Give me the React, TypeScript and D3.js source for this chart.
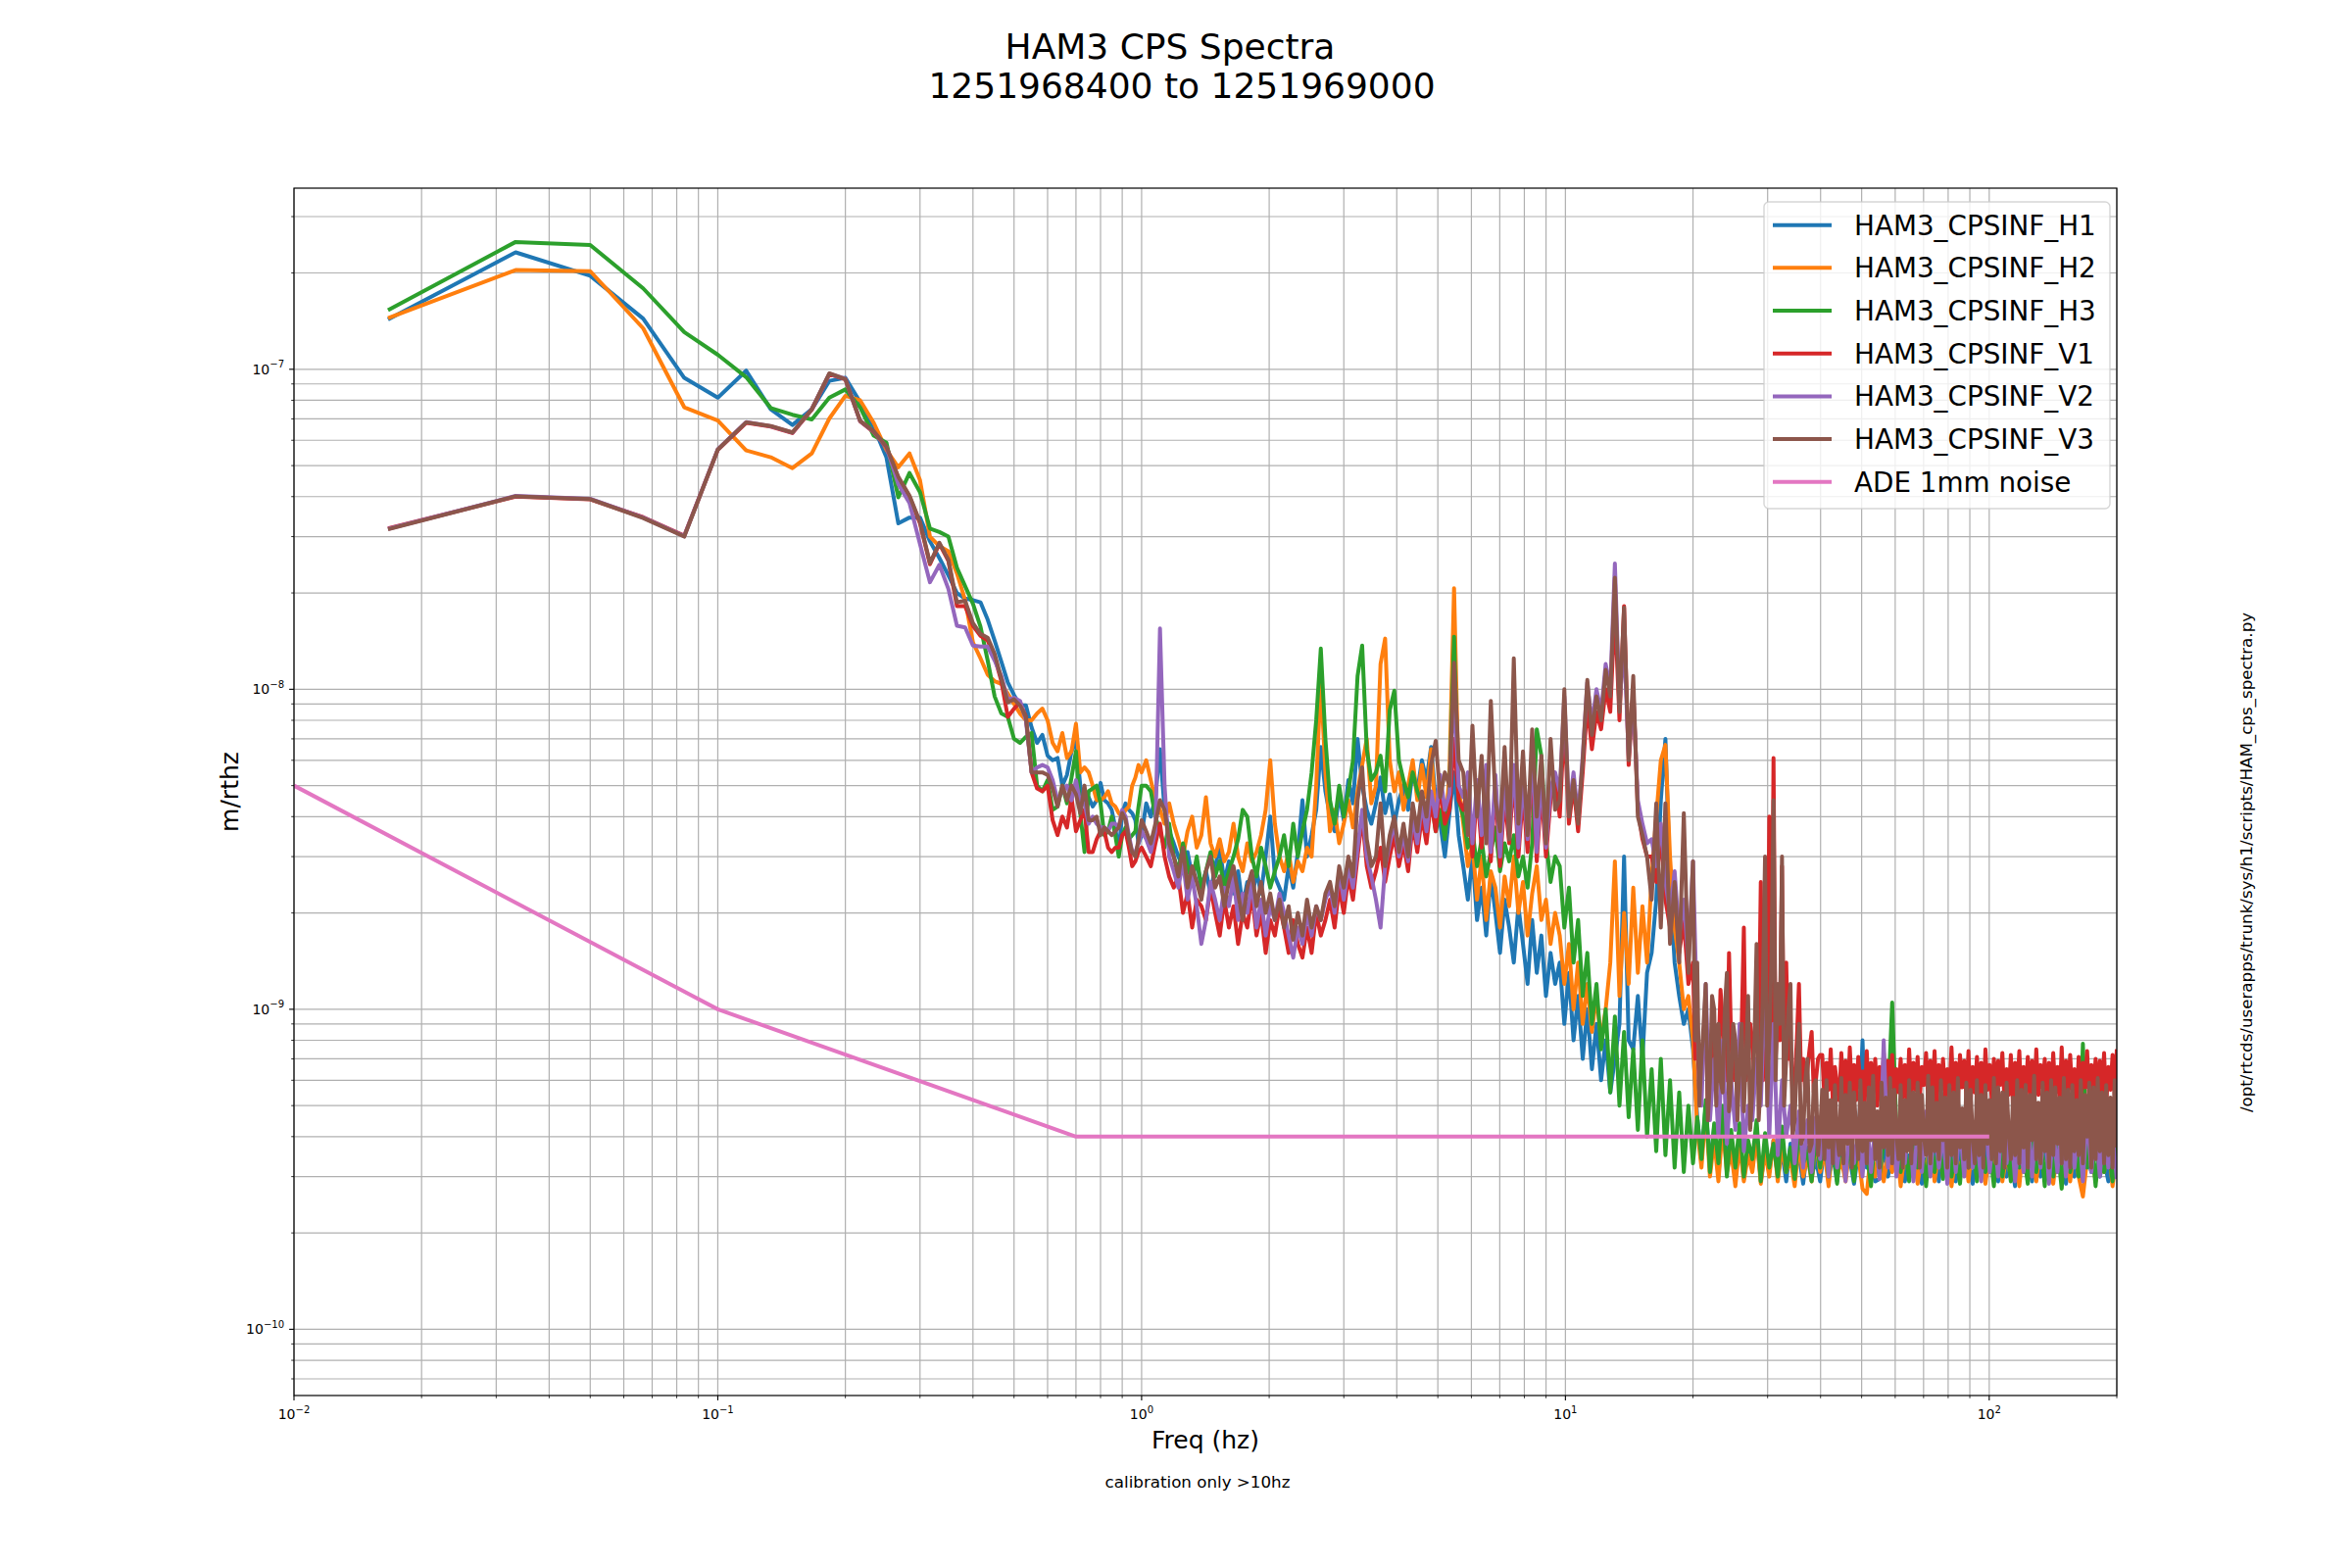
import * as d3 from 'd3'

// ── figure geometry (matplotlib default subplot box on a 2400x1600 canvas) ──
const W = 2400
const H = 1600
const M = { left: 300, right: 2160, top: 192, bottom: 1424 }
const FONT = 'DejaVu Sans'
const U = 1e-10 // all values below are in units of 1e-10 m/rthz

// ── frequency bins ───────────────────────────────────────────────────────────
// 1/60 Hz FFT bins up to 1 Hz, then log-sampled bins 1–20 Hz and 20–200 Hz
const F_LOW = d3.range(1, 61).map(k => k / 60)
const F_MID = d3.range(1, 121).map(i => Math.pow(20, i / 120))
const F_HIGH = d3.range(1, 101).map(j => 20 * Math.pow(10, j / 100))
const F_HIGH2 = d3.range(1, 201).map(j => 20 * Math.pow(10, j / 200)) // finer, for V1/V3

// ── HAM3_CPSINF_H1 ───────────────────────────────────────────────────────────
const H1_LOW = [
  1430, 2320, 1960, 1440, 940, 815, 990, 750, 670, 750, 920, 940,
  790, 660, 530, 330, 344, 344,
  290, 257, 227, 200, 192, 190, 187, 165, 142, 122, 105, 96, 89, 89, 76, 68, 72, 62, 60, 61, 50, 54,
  64, 69, 50, 44, 46, 43, 45, 51, 45, 44, 42, 37, 31, 41, 44, 42, 41, 39, 33, 35,
]
const H1_MID = [
  44, 40, 46, 65, 42, 36, 33, 30, 28, 31,
  26, 29, 24, 27, 23, 28, 32, 25, 29, 23,
  27, 21, 25, 22, 27, 23, 30, 40, 26, 24,
  22, 28, 24, 31, 45, 30, 35, 42, 66, 48,
  40, 36, 47, 39, 52, 44, 70, 50, 42, 38,
  44, 53, 41, 47, 38, 45, 50, 42, 56, 48,
  60, 52, 66, 45, 38, 30, 41, 55, 35, 28,
  22, 30, 19, 24, 17, 26, 20, 15, 22, 18,
  14, 21, 16, 12, 19, 13, 17, 11, 15, 12,
  14, 9, 13, 8, 11, 7, 10, 6.5, 9, 6,
  8, 5.5, 7, 9, 30, 8, 7.5, 11, 7, 13,
  15, 22, 45, 70, 25, 14, 11, 9, 10, 7.5,
]
const H1_HIGH = [
  4.6, 3.4, 5.0, 3.2, 4.3, 3.0, 4.8, 3.3, 4.0, 3.1,
  3.9, 2.95, 3.7, 3.2, 4.1, 2.9, 3.6, 3.1, 3.9, 3.0,
  3.6, 2.9, 3.8, 3.1, 3.5, 2.85, 3.7, 3.0, 3.4, 2.9,
  3.7, 3.0, 3.5, 2.9, 3.8, 3.1, 3.4, 2.85, 3.6, 8.0,
  3.2, 3.6, 2.9, 2.95, 3.7, 3.0, 3.5, 3.1, 3.8, 2.9,
  3.5, 3.0, 3.7, 2.85, 3.4, 3.1, 3.6, 2.9, 3.8, 3.0,
  3.5, 2.9, 3.7, 3.1, 3.4, 2.85, 3.6, 3.0, 3.8, 3.1,
  3.5, 2.9, 3.6, 3.0, 3.4, 2.8, 3.7, 3.1, 3.5, 2.9,
  3.6, 3.0, 3.8, 2.9, 3.5, 3.1, 3.7, 2.85, 3.4, 3.0,
  3.6, 2.9, 3.5, 3.1, 3.8, 3.0, 3.4, 2.9, 3.6, 3.1,
]

// ── HAM3_CPSINF_H2 ───────────────────────────────────────────────────────────
const H2_LOW = [
  1445, 2042, 2025, 1343, 761, 692, 558, 531, 491, 546, 702, 826,
  800, 680, 560, 494, 546, 450,
  300, 280, 270, 230, 190, 140, 125, 111, 106, 104, 97, 90, 84, 80, 80, 84, 87, 80, 68, 64, 73, 61,
  64, 78, 55, 57, 55, 50, 45, 45, 46, 48, 44, 43, 41, 40, 42, 43, 50, 53, 58, 55,
]
const H2_MID = [
  60, 52, 45, 42, 38, 44, 38, 34, 30, 36,
  40, 32, 35, 46, 33, 30, 34, 29, 31, 38,
  30, 27, 33, 29, 31, 35, 42, 60, 38, 30,
  27, 31, 25, 29, 27, 32, 30, 50, 107, 55,
  36, 42, 33, 38, 45, 37, 48, 58, 70, 44,
  50, 120, 144, 60, 48, 55, 42, 50, 60, 45,
  58, 46, 65, 40, 52, 35, 55, 207, 50, 38,
  28, 33, 22, 30, 19, 27, 24, 18, 26, 21,
  30, 20, 25, 17, 23, 28, 19, 22, 16, 20,
  17, 12, 16, 10, 14, 9, 12, 8.5, 11, 8,
  10, 14, 29, 11, 20, 12, 24, 13, 21, 14,
  26, 40, 60, 67, 30, 18, 14, 10, 11, 8,
]
const H2_HIGH = [
  4.2, 3.2, 4.8, 3.0, 3.9, 2.9, 4.3, 3.1, 3.6, 2.8,
  3.8, 2.9, 3.5, 3.1, 4.0, 2.85, 3.6, 3.0, 3.9, 2.9,
  3.7, 3.1, 3.4, 2.8, 3.8, 3.0, 3.5, 2.9, 3.9, 3.1,
  3.6, 2.8, 3.8, 3.0, 3.4, 2.9, 3.7, 3.1, 3.5, 2.75,
  2.65, 3.6, 3.0, 3.9, 2.9, 3.5, 3.1, 3.8, 2.8, 3.6,
  3.0, 3.7, 2.85, 3.5, 3.1, 3.9, 2.9, 3.6, 3.0, 3.8,
  2.8, 3.5, 3.1, 3.7, 2.9, 3.9, 3.0, 3.4, 2.85, 3.6,
  3.1, 3.8, 2.9, 3.5, 3.0, 3.7, 2.8, 3.9, 3.1, 3.6,
  2.9, 3.8, 3.0, 3.5, 2.85, 3.7, 3.1, 3.6, 2.9, 3.8,
  3.0, 2.6, 3.4, 3.7, 2.9, 3.5, 3.1, 3.8, 2.8, 3.6,
]

// ── HAM3_CPSINF_H3 ───────────────────────────────────────────────────────────
const H3_LOW = [
  1530, 2500, 2445, 1790, 1306, 1110, 945, 757, 721, 697, 815, 865,
  760, 620, 590, 398, 474, 413,
  318, 310, 300, 240, 210, 185, 157, 123, 95, 84, 82, 70, 68, 71, 73, 50, 48, 52, 42, 43, 50, 44,
  53, 64, 41, 31, 48, 49, 50, 44, 35, 36, 40, 35, 30, 35, 37, 34, 35, 36, 43, 50,
]
const H3_MID = [
  50, 48, 40, 36, 32, 38, 30, 27, 33, 28,
  25, 30, 24, 27, 31, 26, 29, 24, 27, 30,
  34, 42, 40, 30, 26, 32, 28, 24, 27, 30,
  35, 28, 38, 30, 36, 42, 55, 80, 134, 70,
  45, 38, 50, 40, 48, 60, 110, 137, 65, 52,
  55, 62, 48, 86, 99, 60, 52, 46, 55, 48,
  44, 38, 46, 36, 42, 34, 48, 146, 45, 40,
  32, 36, 28, 34, 26, 31, 37, 27, 33, 29,
  35, 26, 30, 24, 33, 75, 62, 34, 25, 30,
  28, 18, 24, 14, 19, 11, 15, 9, 12, 7.5,
  10, 5.5, 9.5, 5, 8.5, 4.6, 7.5, 4.2, 8, 4,
  6.5, 3.6, 7, 3.5, 6, 3.2, 5.5, 3.1, 5, 3.3,
]
const H3_HIGH = [
  4.6, 3.4, 5.2, 3.1, 4.4, 3.3, 5.0, 3.0, 4.2, 3.2,
  4.4, 3.0, 3.9, 3.4, 4.5, 2.9, 4.1, 3.2, 3.8, 3.0,
  4.3, 3.1, 3.7, 2.95, 4.2, 3.3, 3.6, 2.9, 4.0, 3.2,
  4.1, 3.0, 3.8, 2.85, 4.2, 3.1, 3.7, 2.9, 4.0, 3.2,
  3.6, 2.8, 4.1, 3.0, 3.9, 5.0, 10.5, 4.2, 3.1, 3.8,
  2.9, 4.2, 3.2, 3.7, 2.8, 4.0, 3.1, 3.8, 2.95, 4.3,
  3.0, 3.6, 2.85, 4.1, 3.2, 3.9, 2.9, 4.0, 3.1, 3.7,
  2.8, 4.2, 3.0, 3.8, 2.9, 4.1, 3.2, 3.6, 2.85, 4.0,
  3.1, 3.9, 2.8, 4.2, 3.0, 3.7, 2.75, 4.1, 3.1, 3.8,
  3.0, 7.8, 3.2, 3.9, 2.8, 4.0, 3.1, 3.7, 2.9, 4.1,
]

// ── HAM3_CPSINF_V1 ───────────────────────────────────────────────────────────
const V1_LOW = [
  318, 400, 392, 345, 302, 560, 680, 662, 632, 748, 965, 930,
  688, 636, 570, 458, 400, 330,
  246, 285, 252, 182, 182, 158, 147, 142, 126, 106, 82, 87, 91, 82, 55, 49, 48, 50, 39, 35, 40, 37,
  46, 36, 39, 42, 31, 31, 34, 36, 36, 32, 31, 32, 32, 35, 36, 32, 28, 29, 31, 32,
]
const V1_MID = [
  30, 28, 33, 38, 30, 26, 24, 26, 20, 23,
  18, 22, 21, 19, 24, 20, 17, 22, 18, 21,
  16, 20, 18, 23, 17, 20, 15, 19, 17, 21,
  18, 15, 19, 16, 14.5, 18, 15, 20, 17, 19,
  22, 18, 24, 20, 26, 22, 30, 40, 28, 24,
  27, 32, 25, 30, 35, 28, 33, 27, 38, 31,
  40, 33, 45, 36, 50, 38, 42, 70, 45, 42,
  50, 30, 48, 32, 56, 29, 50, 28, 46, 33,
  54, 30, 47, 31, 60, 29, 49, 30, 45, 52,
  40, 80, 38, 50, 36, 55, 90, 65, 85, 75,
  100, 85, 180, 80, 182, 58, 100, 42, 34, 30,
  30, 25, 35, 22, 18, 24, 15, 19, 12, 14,
]
const V1_HIGH = [
  7, 8.5, 5.5, 6, 8, 9, 5, 5.5, 7.5, 8,
  6, 7, 11.5, 9, 6, 6, 15, 8, 6, 7,
  5.5, 6.5, 9, 18, 6, 7, 9, 8, 6, 6,
  8, 25, 6, 9, 7, 40, 8, 61, 7, 10,
  8, 28, 6, 14, 7, 7.5, 5.5, 6, 8, 12,
  6, 7, 5.5, 6.5, 7.5, 8.5, 5.5, 6, 7, 7.2,
  7.2, 5.3, 6.8, 5.6, 7.5, 5.1, 6.6, 5.8, 5.2, 7.3,
  5.4, 6.9, 5.0, 7.6, 5.5, 6.7, 5.2, 7.1, 5.7, 6.4,
  5.1, 7.4, 5.3, 6.8, 5.6, 7.0, 5.0, 6.6, 5.4, 7.3,
  5.2, 6.9, 5.7, 7.2, 5.1, 6.5, 5.5, 7.0, 5.3, 6.7,
  5.0, 7.5, 5.4, 6.8, 5.6, 7.1, 5.2, 6.6, 5.8, 7.3,
  5.1, 6.9, 5.4, 7.4, 5.0, 6.7, 5.6, 7.0, 5.3, 6.5,
  5.5, 7.6, 5.2, 6.8, 5.0, 7.2, 5.7, 6.9, 5.3, 7.4,
  5.1, 6.6, 5.5, 7.1, 5.4, 6.8, 5.0, 7.5, 5.6, 6.7,
  5.2, 7.0, 5.3, 6.9, 5.8, 7.3, 5.1, 6.5, 5.4, 7.2,
  5.0, 6.8, 5.6, 7.4, 5.2, 6.6, 5.5, 7.1, 5.3, 6.9,
  5.1, 7.5, 5.4, 6.7, 5.7, 7.0, 5.0, 6.8, 5.3, 7.3,
  5.5, 6.6, 5.2, 7.6, 5.1, 6.9, 5.6, 7.2, 5.4, 6.5,
  5.0, 7.1, 5.3, 6.8, 5.7, 7.4, 5.2, 6.7, 5.5, 7.0,
  5.1, 6.9, 5.4, 7.3, 5.0, 6.6, 5.6, 7.2, 5.3, 7.5,
]

// ── HAM3_CPSINF_V2 ───────────────────────────────────────────────────────────
const V2_LOW = [
  317, 402, 394, 344, 301, 562, 684, 664, 634, 752, 968, 934,
  689, 638, 571, 437, 382, 284,
  216, 245, 206, 158, 156, 137, 136, 136, 123, 110, 93, 94, 92, 80, 55, 57, 58, 57, 52, 45, 48, 50,
  45, 52, 44, 44, 38, 40, 38, 37, 37, 36, 38, 38, 37, 42, 40, 35, 31, 31, 33, 36,
]
const V2_MID = [
  34, 31, 36, 155, 50, 30, 27, 24, 29, 22,
  26, 21, 16, 19, 25, 22, 19, 24, 21, 26,
  19, 23, 20, 25, 18, 22, 17, 21, 19, 23,
  20, 17, 14.5, 18, 16, 20, 17, 21, 19, 22,
  24, 20, 27, 22, 28, 24, 32, 42, 30, 26,
  22, 18, 28, 33, 38, 30, 35, 29, 40, 33,
  44, 36, 48, 40, 54, 42, 47, 100, 50, 46,
  55, 33, 52, 35, 58, 31, 54, 30, 50, 36,
  58, 32, 52, 34, 64, 31, 54, 32, 49, 55,
  48, 95, 42, 55, 40, 62, 105, 78, 100, 85,
  120, 100, 247, 90, 140, 62, 95, 45, 38, 33,
  34, 28, 38, 25, 20, 27, 17, 22, 14, 29,
]
const V2_HIGH = [
  9, 5, 12, 4.5, 7, 4, 8, 3.8, 6, 4.2,
  9, 3.6, 5, 4.5, 7, 5, 12, 4, 9, 3.5,
  6, 4, 5, 3.3, 4.8, 3.2, 4.5, 3.1, 4.6, 3.4,
  4.4, 3.0, 4.8, 3.2, 4.1, 2.9, 4.6, 3.3, 4.2, 3.0,
  4.7, 3.1, 4.3, 2.95, 8.0, 3.2, 4.5, 3.0, 4.0, 3.3,
  4.6, 2.9, 4.2, 3.1, 4.8, 3.0, 4.4, 3.2, 4.1, 2.85,
  4.7, 3.1, 4.3, 3.0, 4.5, 3.2, 4.0, 2.9, 4.6, 3.1,
  4.2, 3.0, 4.8, 3.3, 4.4, 2.9, 4.1, 3.1, 4.7, 3.0,
  4.3, 3.2, 4.5, 2.85, 4.2, 3.1, 4.6, 3.0, 4.0, 3.2,
  4.4, 2.9, 4.7, 3.1, 4.3, 3.0, 4.5, 3.2, 4.1, 2.95,
]

// ── HAM3_CPSINF_V3 ───────────────────────────────────────────────────────────
const V3_LOW = [
  316, 401, 393, 343, 300, 561, 683, 665, 635, 751, 971, 932,
  690, 640, 573, 461, 403, 333,
  248, 287, 254, 187, 189, 161, 149, 145, 129, 108, 91, 93, 89, 82, 55, 55, 55, 54, 49, 43, 50, 45,
  50, 47, 41, 50, 39, 39, 40, 35, 37, 36, 35, 36, 37, 41, 39, 34, 31, 30, 34, 39,
]
const V3_MID = [
  36, 33, 38, 45, 42, 33, 30, 26, 32, 24,
  28, 25, 22, 27, 30, 24, 26, 21, 25, 28,
  23, 19, 24, 27, 21, 25, 20, 23, 19, 22,
  18, 21, 16.5, 20, 17, 22, 18, 21, 19, 23,
  25, 21, 28, 24, 30, 26, 45, 57, 34, 28,
  30, 44, 28, 35, 40, 31, 38, 30, 44, 36,
  48, 40, 58, 69, 46, 55, 50, 121, 60, 55,
  35, 77, 40, 62, 33, 92, 45, 36, 66, 34,
  125, 38, 64, 35, 75, 40, 62, 33, 70, 42,
  45, 100, 40, 52, 38, 60, 107, 72, 95, 80,
  115, 95, 223, 85, 180, 60, 110, 40, 35, 30,
  22, 44, 18, 44, 16, 25, 14, 41, 13, 29,
]
const V3_HIGH = [
  8, 14, 5, 7, 9, 12, 4.5, 6, 11, 10,
  5, 9, 6, 5.5, 10, 13, 4.8, 6, 9, 8,
  4.5, 7, 9, 4.8, 7, 11, 4.2, 5.5, 8, 16,
  4.5, 6, 12, 30, 5, 8, 14, 45, 6, 12,
  9, 30, 5, 7, 10, 12, 4, 4.5, 7, 9,
  3.8, 4, 6, 7, 3.6, 3.8, 5.8, 6, 3.5, 4.2,
  5.6, 3.4, 6.0, 3.7, 5.2, 3.3, 5.8, 4.0, 3.5, 6.1,
  3.3, 5.4, 3.8, 5.9, 3.2, 5.5, 4.2, 3.4, 6.0, 3.6,
  5.1, 3.3, 5.7, 3.9, 6.2, 3.4, 4.8, 3.2, 5.9, 3.7,
  5.3, 3.5, 6.1, 3.3, 5.6, 4.1, 3.4, 5.8, 3.2, 5.2,
  3.6, 6.0, 3.3, 5.5, 3.8, 5.9, 3.2, 5.4, 4.0, 3.5,
  6.2, 3.3, 5.7, 3.6, 5.1, 3.4, 6.0, 3.9, 5.3, 3.2,
  5.8, 3.5, 5.5, 3.3, 6.1, 3.7, 4.9, 3.4, 5.9, 3.2,
  5.6, 4.0, 3.3, 6.0, 3.5, 5.4, 3.2, 5.8, 3.8, 5.2,
  3.4, 6.1, 3.3, 5.7, 3.6, 5.5, 3.2, 5.9, 4.1, 3.4,
  5.3, 3.5, 6.0, 3.3, 5.6, 3.7, 5.8, 3.2, 5.4, 3.9,
  6.2, 3.4, 5.1, 3.3, 5.9, 3.6, 5.5, 3.2, 6.0, 3.5,
  5.7, 3.8, 5.3, 3.3, 6.1, 3.4, 5.6, 3.2, 5.8, 3.6,
  5.2, 3.5, 6.0, 3.3, 5.4, 4.0, 5.9, 3.2, 5.7, 3.4,
  6.1, 3.6, 5.5, 3.3, 5.8, 3.5, 5.3, 3.2, 6.0, 3.7,
]

// ── ADE 1mm noise model ──────────────────────────────────────────────────────
const ADE_F = [0.01, 0.1, 0.7, 100]
const ADE_V = [50, 10, 4, 4]

const SERIES = [
  { name: 'HAM3_CPSINF_H1', color: '#1f77b4', low: H1_LOW, mid: H1_MID, high: H1_HIGH, highF: F_HIGH },
  { name: 'HAM3_CPSINF_H2', color: '#ff7f0e', low: H2_LOW, mid: H2_MID, high: H2_HIGH, highF: F_HIGH },
  { name: 'HAM3_CPSINF_H3', color: '#2ca02c', low: H3_LOW, mid: H3_MID, high: H3_HIGH, highF: F_HIGH },
  { name: 'HAM3_CPSINF_V1', color: '#d62728', low: V1_LOW, mid: V1_MID, high: V1_HIGH, highF: F_HIGH2 },
  { name: 'HAM3_CPSINF_V2', color: '#9467bd', low: V2_LOW, mid: V2_MID, high: V2_HIGH, highF: F_HIGH },
  { name: 'HAM3_CPSINF_V3', color: '#8c564b', low: V3_LOW, mid: V3_MID, high: V3_HIGH, highF: F_HIGH2 },
]
const ADE = { name: 'ADE 1mm noise', color: '#e377c2' }

const X_MAJOR = [-2, -1, 0, 1, 2]
const Y_MAJOR = [-10, -9, -8, -7]

type Pt = [number, number]

const x = d3.scaleLog().domain([1e-2, 200]).range([M.left, M.right])
const y = d3.scaleLog().domain([Math.pow(10, -10.207), Math.pow(10, -6.434)]).range([M.bottom, M.top])
const line = d3.line<Pt>().x(d => x(d[0])).y(d => y(d[1]))

const inX = (v: number) => v >= 1e-2 * 0.999 && v <= 200 * 1.001
const inY = (v: number) => v >= y.domain()[0] && v <= y.domain()[1]
const xGrid = d3.range(-2, 3).flatMap(e => d3.range(1, 10).map(m => ({ v: m * Math.pow(10, e), major: m === 1 }))).filter(d => inX(d.v))
const yGrid = d3.range(-11, -5).flatMap(e => d3.range(1, 10).map(m => ({ v: m * Math.pow(10, e), major: m === 1 }))).filter(d => inY(d.v))

const pow10 = (e: number) => (e < 0 ? `\u2212${-e}` : `${e}`)

export default function App() {
  const paths = SERIES.map(s => {
    const pts: Pt[] = [
      ...F_LOW.map((f, i) => [f, s.low[i] * U] as Pt),
      ...F_MID.map((f, i) => [f, s.mid[i] * U] as Pt),
      ...s.highF.map((f, i) => [f, s.high[i] * U] as Pt),
    ]
    return { ...s, d: line(pts) ?? '' }
  })
  const adeD = line(ADE_F.map((f, i) => [f, ADE_V[i] * U] as Pt)) ?? ''
  const legendItems = [...SERIES.map(s => ({ name: s.name, color: s.color })), ADE]

  return (
    <div style={{ position: 'absolute', left: 0, top: 0, width: W, height: H, background: '#fff' }}>
      <svg width={W} height={H} viewBox={`0 0 ${W} ${H}`} style={{ display: 'block', fontFamily: FONT }}>
        <defs>
          <clipPath id="plot-clip">
            <rect x={M.left} y={M.top} width={M.right - M.left} height={M.bottom - M.top} />
          </clipPath>
        </defs>
        <rect width={W} height={H} fill="#fff" />

        {/* title */}
        <text x={1194} y={60} textAnchor="middle" fontSize={36}>HAM3 CPS Spectra</text>
        <text x={1206} y={100} textAnchor="middle" fontSize={36}>1251968400 to 1251969000</text>

        {/* grid */}
        <g stroke="#b0b0b0" strokeWidth={1.2}>
          {xGrid.map((d, i) => (
            <line key={`gx${i}`} x1={x(d.v)} x2={x(d.v)} y1={M.top} y2={M.bottom} />
          ))}
          {yGrid.map((d, i) => (
            <line key={`gy${i}`} x1={M.left} x2={M.right} y1={y(d.v)} y2={y(d.v)} />
          ))}
        </g>

        {/* spectra */}
        <g clipPath="url(#plot-clip)" fill="none" strokeWidth={4} strokeLinejoin="round">
          {paths.map(p => (
            <path key={p.name} d={p.d} stroke={p.color} />
          ))}
          <path d={adeD} stroke={ADE.color} />
        </g>

        {/* spines */}
        <rect x={M.left} y={M.top} width={M.right - M.left} height={M.bottom - M.top} fill="none" stroke="#000" strokeWidth={1.2} />

        {/* ticks */}
        <g stroke="#000">
          {xGrid.map((d, i) => (
            <line key={`tx${i}`} x1={x(d.v)} x2={x(d.v)} y1={M.bottom} y2={M.bottom + (d.major ? 4.9 : 2.8)} strokeWidth={d.major ? 1.1 : 0.8} />
          ))}
          {yGrid.map((d, i) => (
            <line key={`ty${i}`} x1={M.left} x2={M.left - (d.major ? 4.9 : 2.8)} y1={y(d.v)} y2={y(d.v)} strokeWidth={d.major ? 1.1 : 0.8} />
          ))}
        </g>
        <g fontSize={14} fill="#000">
          {X_MAJOR.map(e => (
            <text key={`lx${e}`} x={x(Math.pow(10, e))} y={1448} textAnchor="middle">
              10<tspan dy={-6.5} fontSize={10}>{pow10(e)}</tspan>
            </text>
          ))}
          {Y_MAJOR.map(e => (
            <text key={`ly${e}`} x={M.left - 10} y={y(Math.pow(10, e)) + 5} textAnchor="end">
              10<tspan dy={-6.5} fontSize={10}>{pow10(e)}</tspan>
            </text>
          ))}
        </g>

        {/* axis labels */}
        <text x={(M.left + M.right) / 2} y={1478} textAnchor="middle" fontSize={25}>Freq (hz)</text>
        <text transform={`translate(243,${(M.top + M.bottom) / 2}) rotate(-90)`} textAnchor="middle" fontSize={25}>m/rthz</text>
        <text x={1222} y={1518} textAnchor="middle" fontSize={16.7}>calibration only &gt;10hz</text>
        <text transform="translate(2298,880) rotate(-90)" textAnchor="middle" fontSize={16.7}>
          /opt/rtcds/userapps/trunk/sys/h1/scripts/HAM_cps_spectra.py
        </text>

        {/* legend */}
        <g>
          <rect x={1800} y={206} width={353} height={313} rx={5} fill="#fff" fillOpacity={0.8} stroke="#cccccc" strokeOpacity={0.8} strokeWidth={1.4} />
          {legendItems.map((it, i) => {
            const cy = 229.7 + i * 43.67
            return (
              <g key={it.name}>
                <line x1={1809} x2={1869} y1={cy} y2={cy} stroke={it.color} strokeWidth={4} />
                <text x={1892} y={cy + 10} fontSize={27.8} fill="#000">{it.name}</text>
              </g>
            )
          })}
        </g>
      </svg>
    </div>
  )
}
